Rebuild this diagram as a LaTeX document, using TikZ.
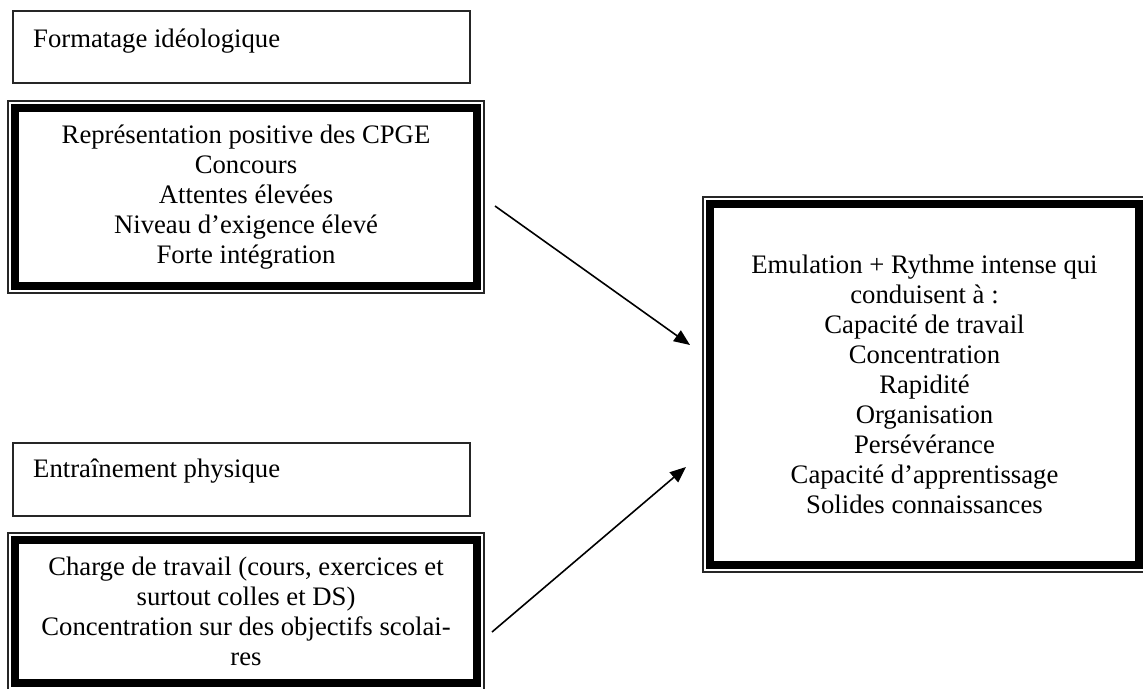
\documentclass[tikz,border=0pt]{standalone}
\usepackage{fontspec}
\setmainfont{Liberation Serif}
\usetikzlibrary{arrows.meta}
\tikzset{
  txt/.style={font=\fontsize{26.7}{30}\selectfont, inner sep=0pt, align=center},
  frame/.style={draw=black!85, line width=1.2pt, inner sep=0pt, outer sep=0pt},
  conn/.style={line width=1.6pt, -{Triangle[length=16pt,width=13pt]}},
}
\newcommand\thickframe[1]{\draw[line width=7.5pt] ([xshift=7pt,yshift=-7pt]#1.north west) rectangle ([xshift=-7pt,yshift=7pt]#1.south east);}
\begin{document}
\begin{tikzpicture}[x=1pt,y=-1pt]
\useasboundingbox (0,0) rectangle (1143,688);
% top-left plain box
\node[frame, minimum width=457pt, minimum height=72pt] (f1) at (241.5,47) {};
\node[txt, anchor=west] (t1) at (33,41) {Formatage idéologique};
% box 2
\node[frame, txt, minimum width=476pt, minimum height=192pt] (b2) at (246,197)
  {Représentation positive des CPGE\\Concours\\Attentes élevées\\Niveau d’exigence élevé\\Forte intégration};
\thickframe{b2}
% box 3
\node[frame, minimum width=457pt, minimum height=73pt] (f3) at (241.5,479.5) {};
\node[txt, anchor=west] (t3) at (33,471) {Entraînement physique};
% box 4
\node[frame, txt, minimum width=476pt, minimum height=157pt] (b4) at (246,611.5)
  {Charge de travail (cours, exercices et\\surtout colles et DS)\\Concentration sur des objectifs scolai-\\res};
\thickframe{b4}
% right box
\node[frame, txt, minimum width=443pt, minimum height=375pt] (r) at (924.5,384.5)
  {Emulation + Rythme intense qui\\conduisent à :\\Capacité de travail\\Concentration\\Rapidité\\Organisation\\Persévérance\\Capacité d’apprentissage\\Solides connaissances};
\thickframe{r}
% connectors
\coordinate (a1s) at (495,206);
\coordinate (a1e) at (690,345);
\coordinate (a2s) at (492,632);
\coordinate (a2e) at (686,467);
\draw[conn] (a1s) -- (a1e);
\draw[conn] (a2s) -- (a2e);
\end{tikzpicture}
\end{document}
